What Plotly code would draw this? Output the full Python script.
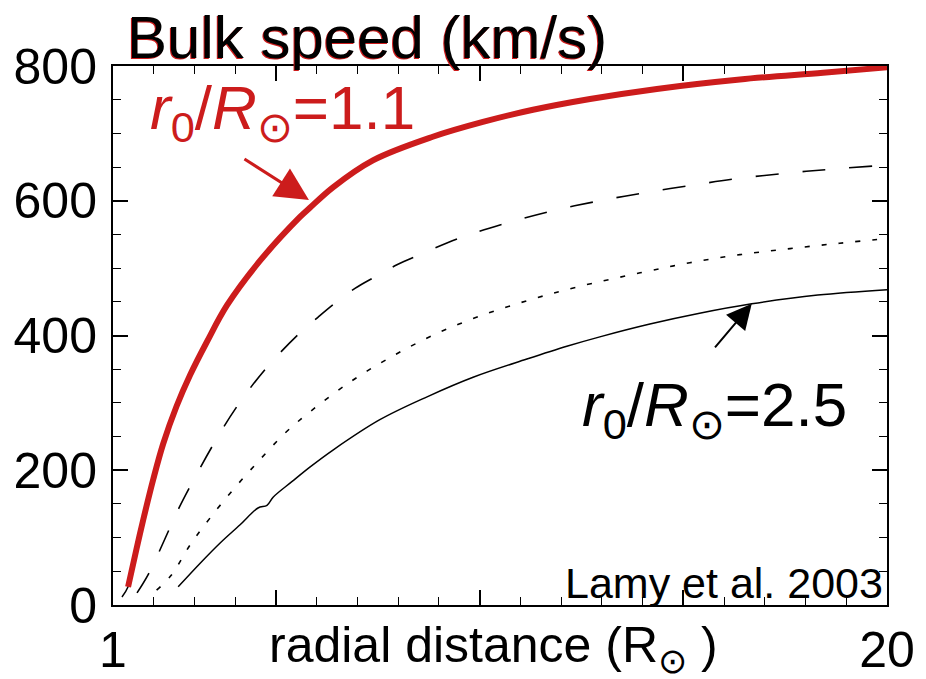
import plotly.graph_objects as go

# Bulk speed profiles (km/s) versus radial distance (solar radii)
red_r = [1.37, 1.58, 1.74, 1.99, 2.23, 2.56, 2.89, 3.30, 3.80, 4.61, 5.59, 5.84, 6.40, 7.38,
         8.85, 10.08, 11.31, 12.71, 14.35, 16.39, 18.43, 20.0]
red_v = [27, 84, 126, 187, 239, 295, 341, 390, 445, 511, 576, 590, 620, 660,
         695, 717, 735, 751, 766, 780, 790, 798]

# thin black trace running underneath the thick red one
base_r = [1.22] + red_r
base_v = [12] + red_v

dash_r = [1.59, 1.88, 2.37, 2.62, 3.45, 4.07, 4.78, 5.59, 6.03, 6.45, 6.94, 7.43, 7.97,
          8.49, 9.57, 10.67, 11.78, 12.95, 14.06, 15.21, 16.34, 17.54, 18.67, 20.0]
dash_v = [18, 47, 111, 144, 237, 297, 353, 404, 427, 448, 470, 487, 505,
          519, 546, 567, 585, 600, 612, 623, 633, 641, 647, 653]

dot_r = [2.07, 2.44, 2.89, 3.38, 3.99, 4.61, 5.22, 5.84, 6.82, 7.85, 8.95, 10.06,
         11.24, 12.39, 13.94, 15.16, 16.39, 17.62, 18.84, 20.0]
dot_v = [22, 45, 89, 129, 174, 216, 255, 287, 331, 369, 403, 430,
         453, 472, 493, 508, 520, 529, 537, 544]

solid_r = [2.60, 3.14, 3.63, 4.12, 4.56, 4.78, 4.93, 5.39, 5.84, 6.40, 7.55, 8.71,
           9.84, 11.16, 12.14, 12.95, 14.18, 15.4, 16.68, 18.3, 20.0]
solid_v = [27, 62, 92, 119, 144, 148, 160, 183, 205, 230, 275, 309,
           338, 365, 384, 398, 417, 433, 447, 460, 468]

x_tickvals = [1, 5, 10, 15, 20]
x_ticktext = ["1", "", "", "", "20"]
y_tickvals = [0, 200, 400, 600, 800]

RED = "#cc1c1c"
FONT = "Liberation Sans, Arial, sans-serif"

fig = go.Figure()

fig.add_trace(go.Scatter(x=base_r, y=base_v, mode="lines",
                         line=dict(color="black", width=1.5, shape="spline", smoothing=1)))
fig.add_trace(go.Scatter(x=dash_r, y=dash_v, mode="lines",
                         line=dict(color="black", width=1.6, dash="23px,24px",
                                   shape="spline", smoothing=1)))
fig.add_trace(go.Scatter(x=dot_r, y=dot_v, mode="lines",
                         line=dict(color="black", width=1.6, dash="5px,12px",
                                   shape="spline", smoothing=1)))
fig.add_trace(go.Scatter(x=solid_r, y=solid_v, mode="lines",
                         line=dict(color="black", width=1.5, shape="spline", smoothing=1)))
fig.add_trace(go.Scatter(x=red_r, y=red_v, mode="lines",
                         line=dict(color=RED, width=6, shape="spline", smoothing=1)))

annotations = [
    # title with a faint red shadow
    dict(text="Bulk speed (km/s)", xref="paper", yref="paper", x=0.0155, y=1.052,
         xanchor="left", yanchor="middle", showarrow=False, xshift=-1, yshift=-1,
         font=dict(family=FONT, size=60, color=RED)),
    dict(text="Bulk speed (km/s)", xref="paper", yref="paper", x=0.0155, y=1.052,
         xanchor="left", yanchor="middle", showarrow=False,
         font=dict(family=FONT, size=60, color="black")),
    # curve labels
    dict(text="<i>r</i><sub>0</sub>/<i>R</i><sub>⊙</sub>=1.1", xref="paper", yref="paper",
         x=(148 - 113) / 774, y=(605 - 112) / 539, xanchor="left", yanchor="middle",
         showarrow=False, font=dict(family=FONT, size=62, color=RED)),
    dict(text="<i>r</i><sub>0</sub>/<i>R</i><sub>⊙</sub>=2.5", xref="paper", yref="paper",
         x=(580 - 113) / 774, y=(605 - 409) / 539, xanchor="left", yanchor="middle",
         showarrow=False, font=dict(family=FONT, size=62, color="black")),
    dict(text="Lamy et al. 2003", xref="paper", yref="paper",
         x=(885 - 113) / 774, y=(605 - 583) / 539, xanchor="right", yanchor="middle",
         showarrow=False, font=dict(family=FONT, size=43, color="black")),
    # x-axis title
    dict(text="radial distance (R<sub>⊙</sub> )", xref="paper", yref="paper",
         x=(493 - 113) / 774, y=(605 - 648) / 539, xanchor="center", yanchor="middle",
         showarrow=False, font=dict(family=FONT, size=50, color="black")),
    # arrows pointing at the curves
    dict(text="", x=5.81, y=601, xref="x", yref="y", ax=-66, ay=-42,
         showarrow=True, arrowhead=2, arrowsize=2.2, arrowwidth=3, arrowcolor=RED),
    dict(text="", x=16.68, y=447, xref="x", yref="y", ax=-38, ay=45,
         showarrow=True, arrowhead=2, arrowsize=2.5, arrowwidth=2, arrowcolor="black"),
]

fig.update_layout(
    width=926, height=679,
    margin=dict(l=113, r=39, t=66, b=74),
    paper_bgcolor="white", plot_bgcolor="white",
    showlegend=False,
    annotations=annotations,
    font=dict(family=FONT, color="black"),
)

fig.update_xaxes(
    range=[1, 20], tickvals=x_tickvals, ticktext=x_ticktext,
    ticks="inside", ticklen=15, tickwidth=1.5, tickcolor="black",
    minor=dict(dtick=1, tick0=0, ticks="inside", ticklen=8, tickwidth=1.2, tickcolor="black"),
    showline=True, linewidth=2, linecolor="black", mirror="allticks",
    showgrid=False, zeroline=False, automargin=False,
    tickfont=dict(family=FONT, size=50, color="black"), ticklabelstandoff=0,
)
fig.update_yaxes(
    range=[0, 800], tickvals=y_tickvals,
    ticks="inside", ticklen=15, tickwidth=1.5, tickcolor="black",
    minor=dict(dtick=50, tick0=0, ticks="inside", ticklen=8, tickwidth=1.2, tickcolor="black"),
    showline=True, linewidth=2, linecolor="black", mirror="allticks",
    showgrid=False, zeroline=False, automargin=False,
    tickfont=dict(family=FONT, size=50, color="black"), ticklabelstandoff=4,
)

fig.write_html("out.html")
